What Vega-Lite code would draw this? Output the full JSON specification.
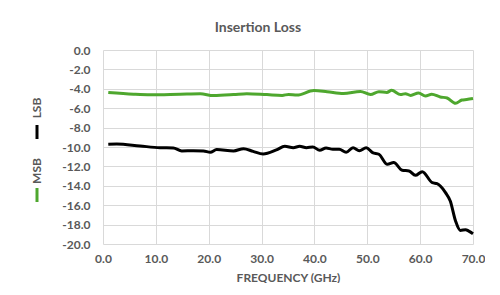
{
  "$schema": "https://vega.github.io/schema/vega-lite/v6.json",
  "padding": {"left": 7, "top": 21, "right": 0, "bottom": 0},
  "background": "white",
  "bounds": "flush",
  "title": {"text": "Insertion Loss", "font": "Lato", "fontSize": 14, "fontWeight": "bold", "color": "#595959", "anchor": "middle", "dx": 12, "offset": 9},
  "spacing": 36,
  "hconcat": [
    {
      "width": 60,
      "height": 194,
      "data": {"values": [{"series": "LSB"}, {"series": "MSB"}]},
      "layer": [
        {
          "mark": {"type": "text", "angle": 270, "yOffset": -12, "font": "Lato", "fontWeight": "bold", "fontSize": 12, "color": "#595959", "align": "center", "baseline": "middle"},
          "encoding": {
            "y": {"field": "series", "type": "nominal", "scale": {"type": "point", "range": [70, 133], "padding": 0}, "axis": null},
            "text": {"field": "series"}
          }
        },
        {
          "mark": {"type": "point", "shape": "M0,-1L0,1", "filled": false, "strokeWidth": 3, "size": 196, "yOffset": 12, "opacity": 1},
          "encoding": {
            "y": {"field": "series", "type": "nominal", "scale": {"type": "point", "range": [70, 133], "padding": 0}, "axis": null},
            "color": {"field": "series", "type": "nominal", "scale": {"domain": ["LSB", "MSB"], "range": ["#000000", "#4ea72e"]}, "legend": null}
          }
        }
      ]
    },
    {
      "width": 370,
      "height": 194,
      "data": {"values": [
        {"series": "MSB", "freq": 1.0, "loss": -4.38},
        {"series": "MSB", "freq": 5.8, "loss": -4.56},
        {"series": "MSB", "freq": 9.0, "loss": -4.62},
        {"series": "MSB", "freq": 14.6, "loss": -4.56},
        {"series": "MSB", "freq": 18.4, "loss": -4.52},
        {"series": "MSB", "freq": 20.9, "loss": -4.7},
        {"series": "MSB", "freq": 24.7, "loss": -4.6},
        {"series": "MSB", "freq": 27.2, "loss": -4.5},
        {"series": "MSB", "freq": 31.0, "loss": -4.6},
        {"series": "MSB", "freq": 33.9, "loss": -4.68},
        {"series": "MSB", "freq": 35.1, "loss": -4.58},
        {"series": "MSB", "freq": 36.7, "loss": -4.65},
        {"series": "MSB", "freq": 39.9, "loss": -4.18},
        {"series": "MSB", "freq": 42.4, "loss": -4.3},
        {"series": "MSB", "freq": 45.5, "loss": -4.48},
        {"series": "MSB", "freq": 48.7, "loss": -4.27},
        {"series": "MSB", "freq": 50.6, "loss": -4.58},
        {"series": "MSB", "freq": 52.2, "loss": -4.3},
        {"series": "MSB", "freq": 53.7, "loss": -4.37},
        {"series": "MSB", "freq": 54.6, "loss": -4.16},
        {"series": "MSB", "freq": 56.3, "loss": -4.6},
        {"series": "MSB", "freq": 57.2, "loss": -4.5},
        {"series": "MSB", "freq": 58.2, "loss": -4.68},
        {"series": "MSB", "freq": 59.7, "loss": -4.43},
        {"series": "MSB", "freq": 61.0, "loss": -4.74},
        {"series": "MSB", "freq": 62.2, "loss": -4.56},
        {"series": "MSB", "freq": 63.8, "loss": -4.84},
        {"series": "MSB", "freq": 65.1, "loss": -4.95},
        {"series": "MSB", "freq": 66.7, "loss": -5.5},
        {"series": "MSB", "freq": 67.9, "loss": -5.16},
        {"series": "MSB", "freq": 68.8, "loss": -5.1},
        {"series": "MSB", "freq": 70.0, "loss": -5.0},
        {"series": "LSB", "freq": 1.0, "loss": -9.72},
        {"series": "LSB", "freq": 2.6, "loss": -9.7},
        {"series": "LSB", "freq": 7.0, "loss": -9.9},
        {"series": "LSB", "freq": 10.8, "loss": -10.07},
        {"series": "LSB", "freq": 13.3, "loss": -10.1},
        {"series": "LSB", "freq": 14.9, "loss": -10.4},
        {"series": "LSB", "freq": 17.1, "loss": -10.38},
        {"series": "LSB", "freq": 19.0, "loss": -10.4},
        {"series": "LSB", "freq": 20.3, "loss": -10.55},
        {"series": "LSB", "freq": 21.5, "loss": -10.27},
        {"series": "LSB", "freq": 24.7, "loss": -10.4},
        {"series": "LSB", "freq": 26.6, "loss": -10.17},
        {"series": "LSB", "freq": 28.4, "loss": -10.45},
        {"series": "LSB", "freq": 30.3, "loss": -10.72},
        {"series": "LSB", "freq": 32.8, "loss": -10.3},
        {"series": "LSB", "freq": 34.4, "loss": -9.93},
        {"series": "LSB", "freq": 36.0, "loss": -10.07},
        {"series": "LSB", "freq": 37.2, "loss": -9.93},
        {"series": "LSB", "freq": 38.5, "loss": -10.07},
        {"series": "LSB", "freq": 39.7, "loss": -10.0},
        {"series": "LSB", "freq": 41.0, "loss": -10.34},
        {"series": "LSB", "freq": 42.2, "loss": -10.1},
        {"series": "LSB", "freq": 43.5, "loss": -10.24},
        {"series": "LSB", "freq": 44.7, "loss": -10.24},
        {"series": "LSB", "freq": 46.0, "loss": -10.55},
        {"series": "LSB", "freq": 47.3, "loss": -10.07},
        {"series": "LSB", "freq": 48.5, "loss": -10.38},
        {"series": "LSB", "freq": 49.8, "loss": -10.07},
        {"series": "LSB", "freq": 51.0, "loss": -10.58},
        {"series": "LSB", "freq": 52.2, "loss": -10.75},
        {"series": "LSB", "freq": 53.8, "loss": -11.79},
        {"series": "LSB", "freq": 55.0, "loss": -11.6},
        {"series": "LSB", "freq": 56.6, "loss": -12.4},
        {"series": "LSB", "freq": 57.9, "loss": -12.47},
        {"series": "LSB", "freq": 59.1, "loss": -12.92},
        {"series": "LSB", "freq": 60.4, "loss": -12.54},
        {"series": "LSB", "freq": 62.3, "loss": -13.68},
        {"series": "LSB", "freq": 63.2, "loss": -13.78},
        {"series": "LSB", "freq": 64.8, "loss": -14.7},
        {"series": "LSB", "freq": 65.7, "loss": -15.57},
        {"series": "LSB", "freq": 66.7, "loss": -17.63},
        {"series": "LSB", "freq": 67.6, "loss": -18.6},
        {"series": "LSB", "freq": 68.6, "loss": -18.53},
        {"series": "LSB", "freq": 69.2, "loss": -18.67},
        {"series": "LSB", "freq": 70.0, "loss": -18.95}
      ]},
      "mark": {"type": "line", "interpolate": "monotone", "strokeWidth": 3},
      "encoding": {
        "x": {"field": "freq", "type": "quantitative", "scale": {"domain": [0, 70], "nice": false},
              "axis": {"values": [0, 10, 20, 30, 40, 50, 60, 70], "format": ".1f", "title": "FREQUENCY (GHz)", "labelPadding": 9, "titlePadding": 8}},
        "y": {"field": "loss", "type": "quantitative", "scale": {"domain": [-20, 0], "nice": false},
              "axis": {"values": [0, -2, -4, -6, -8, -10, -12, -14, -16, -18, -20], "format": ".1f", "title": null, "labelPadding": 13}},
        "color": {"field": "series", "type": "nominal", "scale": {"domain": ["LSB", "MSB"], "range": ["#000000", "#4ea72e"]}, "legend": null}
      }
    }
  ],
  "config": {
    "locale": {"number": {"decimal": ".", "thousands": ",", "grouping": [3], "currency": ["$", ""], "minus": "-"}},
    "view": {"stroke": null},
    "axis": {
      "domain": false, "ticks": false, "tickSize": 0, "labelFlush": false,
      "gridColor": "#d9d9d9", "gridWidth": 1,
      "labelFont": "Lato", "labelFontSize": 12, "labelFontWeight": "bold", "labelColor": "#595959",
      "titleFont": "Lato", "titleFontSize": 12, "titleFontWeight": "bold", "titleColor": "#595959"
    }
  }
}
